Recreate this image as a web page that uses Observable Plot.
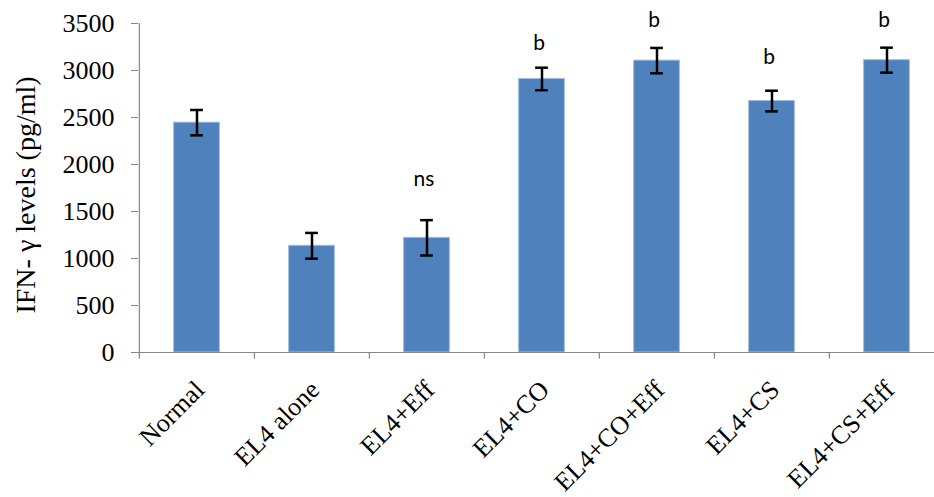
<!DOCTYPE html>
<html><head><meta charset="utf-8">
<script src="https://cdn.jsdelivr.net/npm/d3@7"></script>
<script src="https://cdn.jsdelivr.net/npm/@observablehq/plot@0.6"></script>
<style>body{margin:0;background:#fff;overflow:hidden}</style>
</head><body><div id="chart"></div>
<script>
const categories = ["Normal", "EL4 alone", "EL4+Eff", "EL4+CO", "EL4+CO+Eff", "EL4+CS", "EL4+CS+Eff"];
const means = [2445, 1135, 1220, 2910, 3105, 2675, 3110];
const errors = [135, 137, 188, 120, 135, 110, 133];
const sigLabels = ["", "", "ns", "b", "b", "b", "b"];
const sigY = [null, null, 1840, 3290, 3530, 3140, 3530];
const yTicks = [0, 500, 1000, 1500, 2000, 2500, 3000, 3500];

const data = categories.map((c, i) => ({
  c, v: means[i], lo: means[i] - errors[i], hi: means[i] + errors[i],
  s: sigLabels[i], sy: sigY[i]
}));

const W = 934, H = 497, ML = 138, MR = -11, MT = 23, MB = 145;
const step = (W - ML - MR) / categories.length;
const barInset = (step - 46) / 2;
const capInset = (step - 13) / 2;
const serif = "'Liberation Serif', 'Times New Roman', serif";
const gray = "#878787";

const chart = Plot.plot({
  width: W, height: H,
  marginLeft: ML, marginRight: MR, marginTop: MT, marginBottom: MB,
  style: {background: "#fff", overflow: "hidden"},
  x: {type: "band", domain: categories, padding: 0},
  y: {domain: [0, 3500]},
  marks: [
    Plot.barY(data, {x: "c", y: "v", fill: "#4F81BD", stroke: "#A3BCDD", strokeWidth: 1,
      insetLeft: barInset, insetRight: barInset}),
    Plot.ruleY([0], {stroke: gray, strokeWidth: 1.2}),
    Plot.ruleX([categories[0]], {dx: -step / 2, stroke: gray, strokeWidth: 1.2}),
    Plot.ruleX(categories, {x: d => d, dx: -step / 2, y1: 0, y2: -70, stroke: gray, strokeWidth: 1.2}),
    Plot.axisY({ticks: yTicks, tickSize: 7, tickPadding: 17, fontSize: 26, fontFamily: serif,
      color: "black", stroke: gray, label: null, tickFormat: d => String(d)}),
    Plot.axisX({tickSize: 0, tickPadding: 33, tickRotate: -45, dx: 3, fontSize: 26,
      fontFamily: serif, color: "black", label: null}),
    Plot.ruleX(data, {x: "c", y1: "lo", y2: "hi", stroke: "black", strokeWidth: 2.5}),
    Plot.tickY(data, {x: "c", y: "hi", stroke: "black", strokeWidth: 2.5,
      insetLeft: capInset, insetRight: capInset}),
    Plot.tickY(data, {x: "c", y: "lo", stroke: "black", strokeWidth: 2.5,
      insetLeft: capInset, insetRight: capInset}),
    Plot.text(data.filter(d => d.s), {x: "c", y: "sy", text: "s", dx: -3, fontSize: 21,
      fontFamily: "Lato, 'Open Sans', sans-serif", fill: "black"}),
    Plot.text(["IFN- \u03b3 levels (pg/ml)"], {frameAnchor: "left", textAnchor: "middle",
      dx: -112, dy: 7, rotate: -90, fontSize: 28, fontFamily: serif, fill: "black"})
  ]
});
document.getElementById("chart").appendChild(chart);
</script>
</body></html>
